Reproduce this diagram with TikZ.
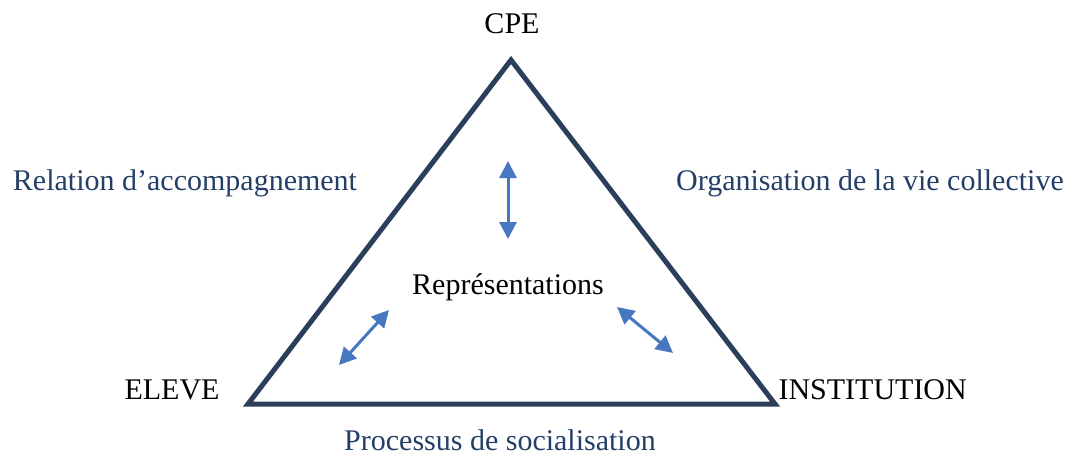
\documentclass[tikz,border=0pt]{standalone}
\usepackage{fontspec}
\setmainfont{Liberation Serif}
\usetikzlibrary{arrows.meta}
\definecolor{edgeNavy}{HTML}{2B3E5A}
\definecolor{sideBlue}{HTML}{243F66}
\definecolor{arrowBlue}{HTML}{4677C0}
\newcommand{\labelSty}{\fontsize{30}{34}\selectfont}

\begin{document}
\begin{tikzpicture}[x=1pt,y=-1pt,
	vertexLabel/.style={font=\labelSty, text=black},
	sideLabel/.style={font=\labelSty, text=sideBlue},
	linkArrow/.style={draw=arrowBlue, line width=3pt, {Triangle[width=17pt,length=17pt]}-{Triangle[width=17pt,length=17pt]}}
	]

	% frame
	\useasboundingbox (0,0) rectangle (1072,456);

	% triangle corners
	\coordinate (apex) at (511,60);
	\coordinate (left) at (248,404);
	\coordinate (right) at (775,404);

	% triangle
	\draw[edgeNavy, line width=5pt, line join=miter] (apex) -- (left) -- (right) -- cycle;

	% vertex labels
	\node[vertexLabel] (cpe) at (512,24) {CPE};
	\node[vertexLabel] (eleve) at (172,390) {ELEVE};
	\node[vertexLabel, anchor=west] (institution) at (775,390) {INSTITUTION};

	% side labels
	\node[sideLabel] (relation) at (185,183) {Relation d’accompagnement};
	\node[sideLabel] (organisation) at (870,183) {Organisation de la vie collective};
	\node[sideLabel] (processus) at (500,440) {Processus de socialisation};

	% centre
	\node[vertexLabel] (repr) at (508,287) {Représentations};

	% arrows
	\coordinate (topA) at (508,161);
	\coordinate (topB) at (508,239);
	\coordinate (leftA) at (389,310);
	\coordinate (leftB) at (339,365);
	\coordinate (rightA) at (617,307);
	\coordinate (rightB) at (673,353);
	\draw[linkArrow] (topA) -- (topB);
	\draw[linkArrow] (leftA) -- (leftB);
	\draw[linkArrow] (rightA) -- (rightB);

\end{tikzpicture}
\end{document}
